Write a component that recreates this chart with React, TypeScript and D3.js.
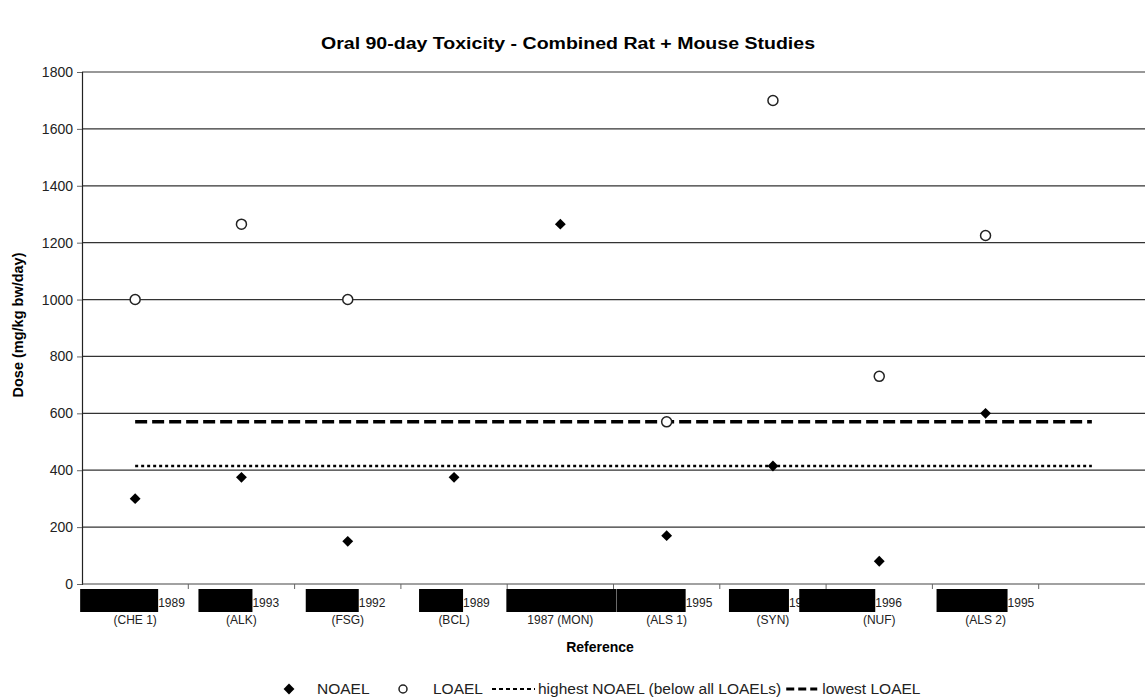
import * as d3 from 'd3';
import { useEffect, useRef } from 'react';

// studies (order on x axis)
const studies = ['CHE 1', 'ALK', 'FSG', 'BCL', 'MON', 'ALS 1', 'SYN', 'NUF', 'ALS 2'];
const years = ['1989', '1993', '1992', '1989', '1987', '1995', '1996', '1996', '1995'];
// NOAEL / LOAEL (mg/kg bw/day), null = not shown
const noael = [300, 375, 150, 375, 1265, 170, 415, 80, 600];
const loael = [1000, 1265, 1000, null, null, 570, 1700, 730, 1225];
const yTicks = [0, 200, 400, 600, 800, 1000, 1200, 1400, 1600, 1800];
const highestNoael = 415;
const lowestLoael = 570;

// redaction boxes (author names blacked out): width and where the year starts, relative to band centre
const boxW = [78, 54, 53, 44, 110, 69, 60, 76, 71];
const yearOff = [23, 11, 11, 9, 56, 19, 16, -4, 22];

const W = 1145;
const H = 700;

const App = () => {
  const ref = useRef(null);

  useEffect(() => {
    const svg = d3.select(ref.current);
    svg.selectAll('*').remove();

    const margin = { top: 72, left: 82, right: 0, bottom: 116 };
    const innerW = W - margin.left - margin.right;
    const innerH = H - margin.top - margin.bottom;

    // 10 bands, last one empty
    const keys = [...studies, ''];
    const x = d3.scaleBand().domain(keys).range([0, innerW]);
    const y = d3.scaleLinear().domain([0, 1800]).range([innerH, 0]);
    const cx = (d) => x(d) + x.bandwidth() / 2;

    const font = 'Liberation Sans, Arial, sans-serif';

    svg.append('rect').attr('width', W).attr('height', H).attr('fill', 'white');

    svg.append('text')
      .attr('x', 568).attr('y', 49)
      .attr('text-anchor', 'middle')
      .attr('textLength', 494).attr('lengthAdjust', 'spacingAndGlyphs')
      .style('font-family', font).style('font-size', '16px').style('font-weight', 'bold')
      .text('Oral 90-day Toxicity - Combined Rat + Mouse Studies');

    const g = svg.append('g').attr('transform', `translate(${margin.left},${margin.top})`);

    // gridlines
    g.selectAll('.grid').data(yTicks.filter(d => d > 0)).enter()
      .append('line')
      .attr('x1', 0).attr('x2', innerW)
      .attr('y1', d => y(d)).attr('y2', d => y(d))
      .attr('stroke', '#333').attr('stroke-width', 1.2);

    // y axis
    const yAxis = d3.axisLeft(y).tickValues(yTicks).tickFormat(d3.format('d')).tickSize(5).tickPadding(4);
    const ya = g.append('g').call(yAxis);
    ya.select('.domain').attr('stroke', '#222').attr('stroke-width', 1.2);
    ya.selectAll('line').attr('stroke', '#666');
    ya.selectAll('text').style('font-family', font).style('font-size', '14px').attr('fill', '#222');

    // x axis line + ticks on band edges
    g.append('line')
      .attr('x1', 0).attr('x2', innerW)
      .attr('y1', innerH).attr('y2', innerH)
      .attr('stroke', '#444').attr('stroke-width', 1.2);
    g.selectAll('.xt').data(keys.slice(1)).enter()
      .append('line')
      .attr('x1', d => x(d)).attr('x2', d => x(d))
      .attr('y1', innerH).attr('y2', innerH + 5)
      .attr('stroke', '#666');

    // category labels
    const cat = g.selectAll('.cat').data(studies).enter()
      .append('g')
      .attr('transform', d => `translate(${cx(d)},${innerH})`);

    cat.append('text')
      .attr('x', (d, i) => yearOff[i])
      .attr('y', 23)
      .style('font-family', font).style('font-size', '12px').attr('fill', '#222')
      .text((d, i) => (i === 4 ? '' : years[i]));
    cat.append('text')
      .attr('y', 40)
      .attr('text-anchor', 'middle')
      .style('font-family', font).style('font-size', '12px').attr('fill', '#222')
      .text((d, i) => (i === 4 ? `${years[i]} (${d})` : `(${d})`));
    cat.append('rect')
      .attr('x', (d, i) => yearOff[i] - boxW[i])
      .attr('y', 5)
      .attr('width', (d, i) => boxW[i])
      .attr('height', 23)
      .attr('fill', 'black');

    svg.append('text')
      .attr('x', 600).attr('y', 652)
      .attr('text-anchor', 'middle')
      .style('font-family', font).style('font-size', '14px').style('font-weight', 'bold')
      .text('Reference');

    svg.append('text')
      .attr('transform', `translate(23,${margin.top + innerH / 2 - 3}) rotate(-90)`)
      .attr('text-anchor', 'middle')
      .style('font-family', font).style('font-size', '14.5px').style('font-weight', 'bold')
      .text('Dose (mg/kg bw/day)');

    // reference lines from first centre to last (empty) band centre
    const x0 = cx(keys[0]);
    const x1 = cx(keys[keys.length - 1]);
    g.append('line')
      .attr('x1', x0).attr('x2', x1)
      .attr('y1', y(highestNoael)).attr('y2', y(highestNoael))
      .attr('stroke', 'black').attr('stroke-width', 2.5).attr('stroke-dasharray', '3,3');
    g.append('line')
      .attr('x1', x0).attr('x2', x1)
      .attr('y1', y(lowestLoael)).attr('y2', y(lowestLoael))
      .attr('stroke', 'black').attr('stroke-width', 3.5).attr('stroke-dasharray', '12,5');

    const diamond = d3.symbol().type(d3.symbolDiamond2).size(75);

    g.selectAll('.noael').data(studies).enter()
      .append('path')
      .attr('d', diamond)
      .attr('transform', (d, i) => `translate(${cx(d)},${y(noael[i])})`)
      .attr('fill', 'black');

    g.selectAll('.loael').data(studies.filter((d, i) => loael[i] != null)).enter()
      .append('circle')
      .attr('cx', d => cx(d))
      .attr('cy', d => y(loael[studies.indexOf(d)]))
      .attr('r', 5)
      .attr('fill', 'white')
      .attr('stroke', '#222').attr('stroke-width', 1.5);

    // legend
    const ly = 689;
    const lfs = '15.5px';
    const lg = svg.append('g');
    lg.append('path').attr('d', diamond).attr('transform', `translate(289,${ly})`).attr('fill', 'black');
    lg.append('text').attr('x', 317).attr('y', ly + 5)
      .style('font-family', font).style('font-size', lfs).attr('fill', '#222').text('NOAEL');
    lg.append('circle').attr('cx', 403).attr('cy', ly).attr('r', 4)
      .attr('fill', 'white').attr('stroke', '#222').attr('stroke-width', 1.5);
    lg.append('text').attr('x', 433).attr('y', ly + 5)
      .style('font-family', font).style('font-size', lfs).attr('fill', '#222').text('LOAEL');
    lg.append('line').attr('x1', 492).attr('x2', 535).attr('y1', ly).attr('y2', ly)
      .attr('stroke', 'black').attr('stroke-width', 2).attr('stroke-dasharray', '4,3');
    const hi = lg.append('text').attr('x', 538).attr('y', ly + 5)
      .style('font-family', font).style('font-size', lfs).attr('fill', '#222')
      .text('highest NOAEL (below all LOAELs)');
    const hiEnd = 538 + (hi.node() as SVGTextElement).getComputedTextLength();
    lg.append('line').attr('x1', hiEnd + 5).attr('x2', hiEnd + 36).attr('y1', ly).attr('y2', ly)
      .attr('stroke', 'black').attr('stroke-width', 3).attr('stroke-dasharray', '8,4');
    lg.append('text').attr('x', hiEnd + 41).attr('y', ly + 5)
      .style('font-family', font).style('font-size', lfs).attr('fill', '#222').text('lowest LOAEL');
  }, []);

  return (
    <svg ref={ref} width={W} height={H} style={{ position: 'absolute', left: 0, top: 0 }}></svg>
  );
};

export default App;
